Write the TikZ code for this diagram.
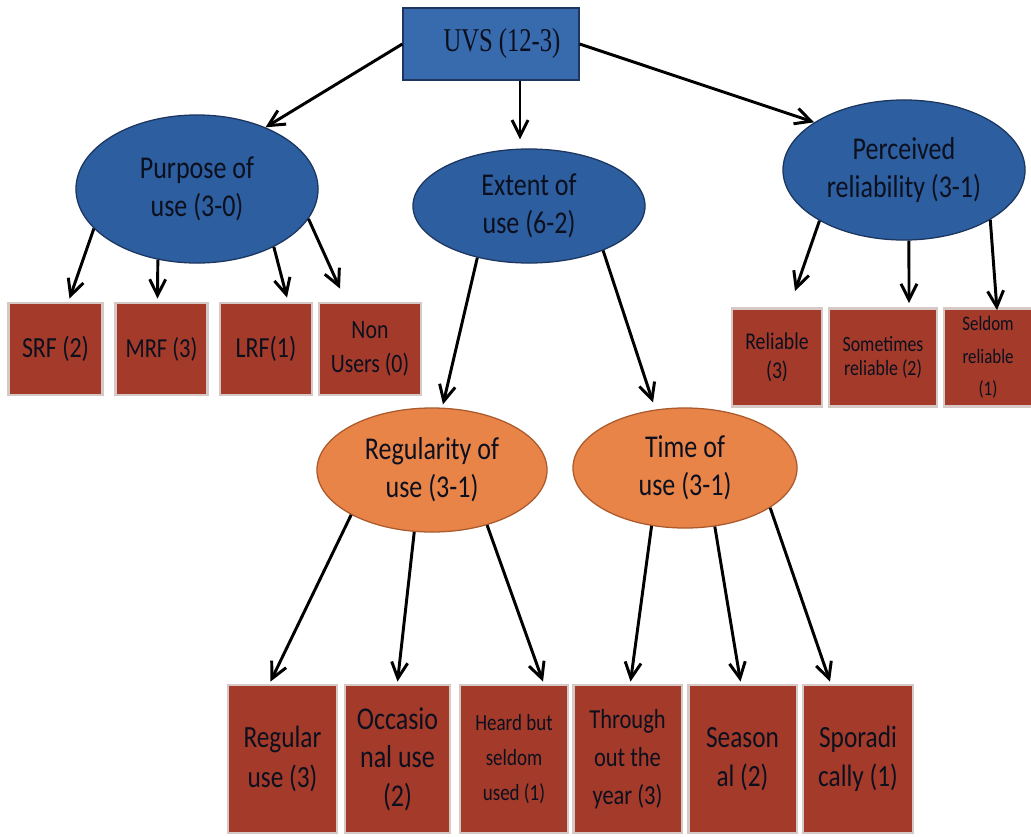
\documentclass[tikz,border=0pt]{standalone}
\usepackage{fontspec}
\setmainfont{Carlito}
\newfontfamily\uvsfont{Liberation Serif}
\usetikzlibrary{shapes.geometric,arrows.meta,calc}
\definecolor{ellblue}{RGB}{44,94,160}
\definecolor{uvsblue}{RGB}{56,106,174}
\definecolor{blueedge}{RGB}{28,54,96}
\definecolor{ellorange}{RGB}{232,132,72}
\definecolor{orangeedge}{RGB}{170,90,44}
\definecolor{boxred}{RGB}{163,58,42}
\definecolor{boxedge}{RGB}{214,200,197}
\definecolor{textdark}{RGB}{12,16,30}
\newcommand{\vs}[1]{\scalebox{1}[1.22]{#1}}
\tikzset{
  ell/.style={ellipse, draw=blueedge, line width=0.9pt, fill=ellblue, inner sep=0pt,
    font=\fontsize{18.5}{27}\selectfont, text=textdark, align=center},
  oell/.style={ell, fill=ellorange, draw=orangeedge},
  rbox/.style={rectangle, fill=boxred, draw=boxedge, line width=2pt, inner sep=0pt,
    align=center, text=textdark},
  arr/.style={-{Straight Barb[length=4mm,width=4mm]}, line width=2.1pt, black},
}
\begin{document}
\begin{tikzpicture}[x=0.025cm,y=-0.025cm]
\useasboundingbox (0,0) rectangle (1031,836);
% root
\node[rectangle, fill=uvsblue, draw=blueedge, line width=0.9pt, minimum width=4.4cm, minimum height=1.8cm,
  font=\uvsfont\fontsize{17.5}{20}\selectfont, text=textdark] (uvs) at (491,44) {\hspace*{0.55cm}\scalebox{1}[1.35]{UVS (12-3)}};
% level 1 ellipses
\node[ell, minimum width=6.05cm, minimum height=3.7cm] (purpose) at (197,189) {\vs{Purpose of}\\\vs{use (3-0)}};
\node[ell, minimum width=5.8cm, minimum height=2.85cm] (extent) at (529,206) {\vs{Extent of}\\\vs{use (6-2)}};
\node[ell, minimum width=6.05cm, minimum height=3.5cm] (perceived) at (904,170) {\vs{Perceived}\\\vs{reliability (3-1)}};
% purpose boxes
\node[rbox, minimum width=2.35cm, minimum height=2.3cm, font=\fontsize{17}{22}\selectfont] (srf) at (55.5,349) {\vs{SRF (2)}};
\node[rbox, minimum width=2.3cm, minimum height=2.3cm, font=\fontsize{16}{22}\selectfont] (mrf) at (161.5,349) {\vs{MRF (3)}};
\node[rbox, minimum width=2.3cm, minimum height=2.3cm, font=\fontsize{17}{22}\selectfont] (lrf) at (266,349) {\vs{LRF(1)}};
\node[rbox, minimum width=2.55cm, minimum height=2.3cm, font=\fontsize{15.5}{24}\selectfont] (nonusers) at (370,349) {\vs{Non}\\\vs{Users (0)}};
% perceived boxes
\node[rbox, minimum width=2.25cm, minimum height=2.45cm, font=\fontsize{14}{21}\selectfont] (reliable) at (777,357.5) {\vs{Reliable}\\\vs{(3)}};
\node[rbox, minimum width=2.7cm, minimum height=2.45cm, font=\fontsize{12.7}{17.5}\selectfont] (sometimes) at (883,357.5) {\vs{Sometimes}\\\vs{reliable (2)}};
\node[rbox, minimum width=2.2cm, minimum height=2.45cm, font=\fontsize{12}{23}\selectfont] (seldomrel) at (988,357.5) {\vs{Seldom}\\\vs{reliable}\\\vs{(1)}};
% level 2 ellipses
\node[oell, minimum width=5.75cm, minimum height=3.1cm] (regularity) at (432,470) {\vs{Regularity of}\\\vs{use (3-1)}};
\node[oell, minimum width=5.6cm, minimum height=3.0cm] (time) at (685,468) {\vs{Time of}\\\vs{use (3-1)}};
% bottom boxes
\node[rbox, minimum width=2.72cm, minimum height=3.7cm, font=\fontsize{18}{28}\selectfont] (regular) at (282.5,759) {\vs{Regular}\\\vs{use (3)}};
\node[rbox, minimum width=2.62cm, minimum height=3.7cm, font=\fontsize{18.5}{27.5}\selectfont] (occasional) at (397.5,759) {\vs{Occasio}\\\vs{nal use}\\\vs{(2)}};
\node[rbox, minimum width=2.7cm, minimum height=3.7cm, font=\fontsize{13.5}{25}\selectfont] (heard) at (514,759) {\vs{Heard but}\\\vs{seldom}\\\vs{used (1)}};
\node[rbox, minimum width=2.72cm, minimum height=3.7cm, font=\fontsize{16}{27}\selectfont] (through) at (627.5,759) {\vs{Through}\\\vs{out the}\\\vs{year (3)}};
\node[rbox, minimum width=2.72cm, minimum height=3.7cm, font=\fontsize{18}{28}\selectfont] (season) at (742.5,759) {\vs{Season}\\\vs{al (2)}};
\node[rbox, minimum width=2.75cm, minimum height=3.7cm, font=\fontsize{18}{28}\selectfont] (sporadic) at (858,759) {\vs{Sporadi}\\\vs{cally (1)}};
% connectors from root
\draw[arr] (uvs.west) -- (purpose.42);
\draw[arr] ($(uvs.south)+(29,0)$) -- ($(extent.north)+(-9,-9)$);
\draw[arr] (uvs.east) -- (perceived.152);
% purpose
\draw[arr] (purpose.201) -- ($(srf.north)+(14,-3)$);
\draw[arr] (purpose.241) -- ($(mrf.north)+(-4,-3)$);
\draw[arr] (purpose.323) -- ($(lrf.north)+(21,-4)$);
\draw[arr] (purpose.345) -- ($(nonusers.north)+(-30,-13)$);
% perceived
\draw[arr] (perceived.211) -- ($(reliable.north)+(18,-16)$);
\draw[arr] (perceived.274) -- ($(sometimes.north)+(26,-4)$);
\draw[arr] (perceived.330) -- ($(seldomrel.north)+(9,3)$);
% extent
\draw[arr] (extent.225) -- ($(regularity.north)+(11,-3)$);
\draw[arr] (extent.329) -- ($(time.north)+(-32,-5)$);
% regularity
\draw[arr] (regularity.209) -- ($(regular.north)+(-12,-2)$);
\draw[arr] (regularity.254) -- ($(occasional.north)+(0,-2)$);
\draw[arr] (regularity.315) -- ($(heard.north)+(29,-2)$);
% time
\draw[arr] (time.240) -- ($(through.north)+(3,-2)$);
\draw[arr] (time.297) -- ($(season.north)+(-2,-2)$);
\draw[arr] (time.335) -- ($(sporadic.north)+(-28,-2)$);
\end{tikzpicture}
\end{document}
